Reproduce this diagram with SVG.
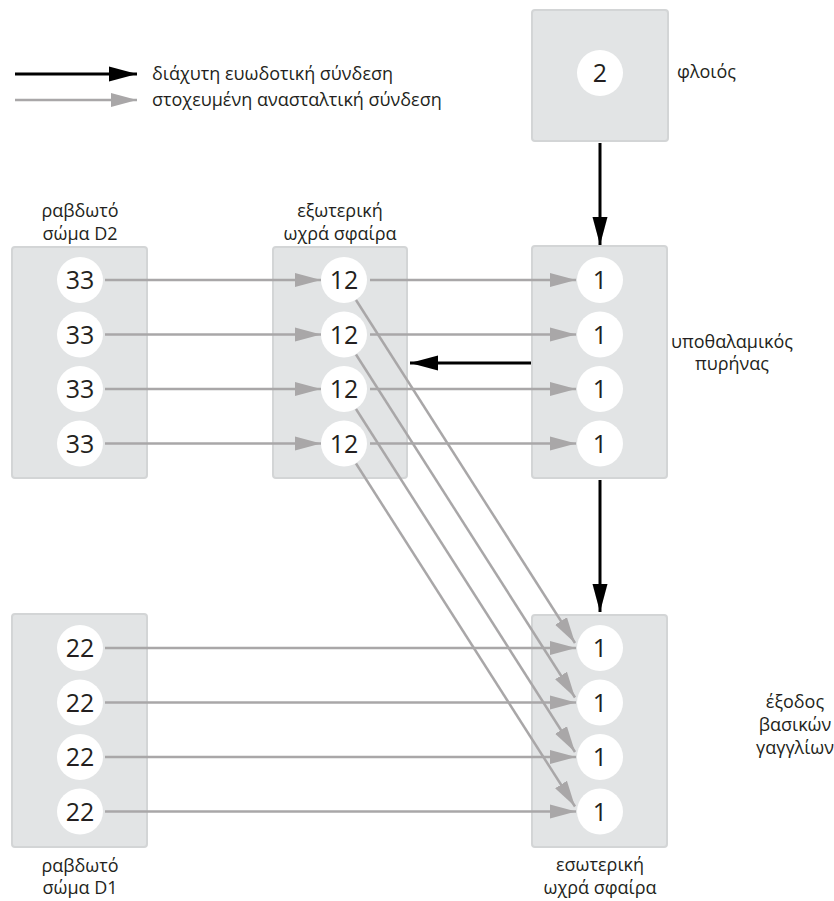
<svg xmlns="http://www.w3.org/2000/svg" width="834" height="901" viewBox="0 0 834 901">
<style>
.box{fill:#e2e4e5;stroke:#d3d5d6;stroke-width:2}
.cell{fill:#ffffff}
.num{font-family:"Open Sans","Liberation Sans",sans-serif;font-size:25px;fill:#231f20;text-anchor:middle}
.lbl{font-family:"Open Sans","Liberation Sans",sans-serif;font-size:18px;fill:#231f20}
.c{text-anchor:middle}
.blk{stroke:#000000;stroke-width:3;fill:none;marker-end:url(#ab)}
.gry{stroke:#a9a7a8;stroke-width:2.5;fill:none;marker-end:url(#ag)}
</style>
<defs>
<marker id="ab" markerUnits="userSpaceOnUse" markerWidth="28" markerHeight="16" refX="28" refY="8" orient="auto">
<path d="M0,0.5 L28,8 L0,15.5 Z" fill="#000000"/>
</marker>
<marker id="ag" markerUnits="userSpaceOnUse" markerWidth="26" markerHeight="16" refX="26" refY="8" orient="auto">
<path d="M0,1 L26,8 L0,15 Z" fill="#a9a7a8"/>
</marker>
</defs>
<rect width="834" height="901" fill="#ffffff"/>

<g id="legend">
<line class="blk" x1="15" y1="74" x2="137" y2="74"/>
<line class="gry" x1="15" y1="100" x2="137" y2="100"/>
<text class="lbl" x="152" y="80">διάχυτη ευωδοτική σύνδεση</text>
<text class="lbl" x="152" y="106">στοχευμένη ανασταλτική σύνδεση</text>
</g>

<g id="cortex">
<rect class="box" x="532" y="10" width="136" height="131" rx="3"/>
<circle class="cell" cx="600" cy="73" r="23"/>
<text class="num" x="600" y="82">2</text>
<text class="lbl" x="677" y="78">φλοιός</text>
</g>

<g id="striatum-d2">
<text class="lbl c" x="80" y="217">ραβδωτό</text>
<text class="lbl c" x="80" y="240">σώμα D2</text>
<rect class="box" x="12" y="247" width="135" height="231" rx="3"/>
<circle class="cell" cx="80" cy="280" r="23"/><text class="num" x="80" y="289">33</text>
<circle class="cell" cx="80" cy="334.5" r="23"/><text class="num" x="80" y="343.5">33</text>
<circle class="cell" cx="80" cy="389" r="23"/><text class="num" x="80" y="398">33</text>
<circle class="cell" cx="80" cy="443.5" r="23"/><text class="num" x="80" y="452.5">33</text>
</g>

<g id="gpe">
<text class="lbl c" x="340" y="217">εξωτερική</text>
<text class="lbl c" x="340" y="240">ωχρά σφαίρα</text>
<rect class="box" x="273" y="247" width="134" height="231" rx="3"/>
<circle class="cell" cx="344" cy="280" r="23"/><text class="num" x="344" y="289">12</text>
<circle class="cell" cx="344" cy="334.5" r="23"/><text class="num" x="344" y="343.5">12</text>
<circle class="cell" cx="344" cy="389" r="23"/><text class="num" x="344" y="398">12</text>
<circle class="cell" cx="344" cy="443.5" r="23"/><text class="num" x="344" y="452.5">12</text>
</g>

<g id="stn">
<rect class="box" x="532" y="246" width="135" height="232" rx="3"/>
<circle class="cell" cx="600" cy="280" r="23"/><text class="num" x="600" y="289">1</text>
<circle class="cell" cx="600" cy="334.5" r="23"/><text class="num" x="600" y="343.5">1</text>
<circle class="cell" cx="600" cy="389" r="23"/><text class="num" x="600" y="398">1</text>
<circle class="cell" cx="600" cy="443.5" r="23"/><text class="num" x="600" y="452.5">1</text>
<text class="lbl c" x="732" y="348">υποθαλαμικός</text>
<text class="lbl c" x="732" y="370">πυρήνας</text>
</g>

<g id="striatum-d1">
<rect class="box" x="12" y="614" width="135" height="233" rx="3"/>
<circle class="cell" cx="80" cy="648" r="23"/><text class="num" x="80" y="657">22</text>
<circle class="cell" cx="80" cy="702.5" r="23"/><text class="num" x="80" y="711.5">22</text>
<circle class="cell" cx="80" cy="757" r="23"/><text class="num" x="80" y="766">22</text>
<circle class="cell" cx="80" cy="811.5" r="23"/><text class="num" x="80" y="820.5">22</text>
<text class="lbl c" x="80" y="872">ραβδωτό</text>
<text class="lbl c" x="80" y="894">σώμα D1</text>
</g>

<g id="gpi">
<rect class="box" x="532" y="615" width="135" height="232" rx="3"/>
<circle class="cell" cx="600" cy="648" r="23"/><text class="num" x="600" y="657">1</text>
<circle class="cell" cx="600" cy="702.5" r="23"/><text class="num" x="600" y="711.5">1</text>
<circle class="cell" cx="600" cy="757" r="23"/><text class="num" x="600" y="766">1</text>
<circle class="cell" cx="600" cy="811.5" r="23"/><text class="num" x="600" y="820.5">1</text>
<text class="lbl c" x="600" y="871">εσωτερική</text>
<text class="lbl c" x="600" y="894">ωχρά σφαίρα</text>
</g>

<g id="output-label">
<text class="lbl c" x="795" y="708">έξοδος</text>
<text class="lbl c" x="795" y="731">βασικών</text>
<text class="lbl c" x="795" y="754">γαγγλίων</text>
</g>

<g id="connectors">
<line class="blk" x1="600" y1="143" x2="600" y2="245"/>
<line class="blk" x1="531" y1="363" x2="410" y2="363"/>
<line class="blk" x1="600" y1="480" x2="600" y2="612"/>

<line class="gry" x1="105" y1="280" x2="321" y2="280"/>
<line class="gry" x1="105" y1="334.5" x2="321" y2="334.5"/>
<line class="gry" x1="105" y1="389" x2="321" y2="389"/>
<line class="gry" x1="105" y1="443.5" x2="321" y2="443.5"/>

<line class="gry" x1="370" y1="280" x2="576" y2="280"/>
<line class="gry" x1="370" y1="334.5" x2="576" y2="334.5"/>
<line class="gry" x1="370" y1="389" x2="576" y2="389"/>
<line class="gry" x1="370" y1="443.5" x2="576" y2="443.5"/>

<line class="gry" x1="105" y1="648" x2="576" y2="648"/>
<line class="gry" x1="105" y1="702.5" x2="576" y2="702.5"/>
<line class="gry" x1="105" y1="757" x2="576" y2="757"/>
<line class="gry" x1="105" y1="811.5" x2="576" y2="811.5"/>

<line class="gry" x1="356" y1="300" x2="575" y2="643"/>
<line class="gry" x1="356" y1="354.5" x2="575" y2="697.5"/>
<line class="gry" x1="356" y1="409" x2="575" y2="752"/>
<line class="gry" x1="356" y1="463.5" x2="575" y2="806.5"/>
</g>
</svg>
